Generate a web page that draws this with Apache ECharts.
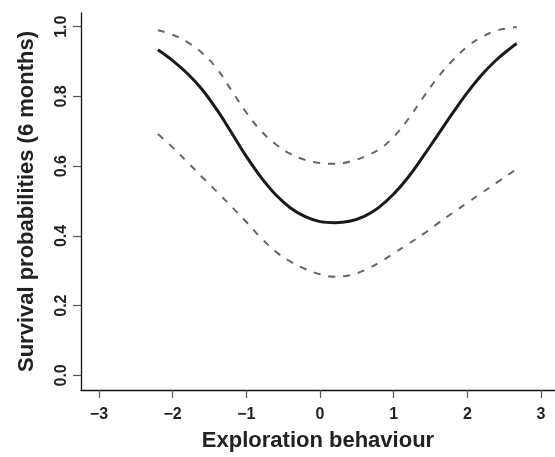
<!DOCTYPE html>
<html>
<head>
<meta charset="utf-8">
<script src="https://cdn.jsdelivr.net/npm/echarts@6/dist/echarts.min.js"></script>
<style>
html,body{margin:0;padding:0;background:#fff;}
#chart{width:555px;height:457px;}
</style>
</head>
<body>
<div id="chart"></div>
<script>
// Data
const xValues = [-2.2, -2.0, -1.8, -1.6, -1.4, -1.2, -1.0, -0.8, -0.6, -0.4, -0.2, 0.0, 0.2, 0.4, 0.6, 0.8, 1.0, 1.2, 1.4, 1.6, 1.8, 2.0, 2.2, 2.4, 2.6, 2.67];
const survivalFit = [0.934, 0.903, 0.866, 0.820, 0.762, 0.696, 0.628, 0.568, 0.518, 0.480, 0.455, 0.441, 0.438, 0.442, 0.456, 0.482, 0.520, 0.569, 0.628, 0.690, 0.752, 0.811, 0.863, 0.906, 0.941, 0.952];
const upperCI = [0.990, 0.977, 0.956, 0.925, 0.880, 0.817, 0.754, 0.701, 0.663, 0.635, 0.618, 0.609, 0.607, 0.613, 0.627, 0.648, 0.684, 0.736, 0.797, 0.855, 0.903, 0.943, 0.971, 0.989, 0.997, 0.999];
const lowerCI = [0.692, 0.654, 0.612, 0.569, 0.527, 0.484, 0.440, 0.394, 0.355, 0.326, 0.305, 0.290, 0.283, 0.287, 0.301, 0.323, 0.350, 0.377, 0.405, 0.436, 0.466, 0.495, 0.524, 0.553, 0.582, 0.591];
const xTicks = [-3, -2, -1, 0, 1, 2, 3];
const yTicks = [0, 0.2, 0.4, 0.6, 0.8, 1.0];
const xTitle = 'Exploration behaviour';
const yTitle = 'Survival probabilities (6 months)';

const pairs = arr => xValues.map((x, i) => [x, arr[i]]);
const font = '"Liberation Sans", Arial, Helvetica, sans-serif';

const chart = echarts.init(document.getElementById('chart'), null, {renderer: 'canvas'});
chart.setOption({
  animation: false,
  backgroundColor: '#ffffff',
  grid: {left: 81, right: 0, top: 13, bottom: 60, containLabel: false},
  xAxis: {
    type: 'value',
    min: -3.244,
    max: 3.19,
    splitLine: {show: false},
    axisLine: {show: true, onZero: false, lineStyle: {color: '#111', width: 1.3}},
    axisTick: {show: true, customValues: xTicks, length: 8, lineStyle: {color: '#555', width: 1.2}},
    axisLabel: {
      customValues: xTicks,
      margin: 17,
      color: '#222',
      fontSize: 16,
      fontWeight: 'bold',
      fontFamily: font,
      formatter: v => (v < 0 ? '\u2212' + Math.abs(v) : String(v))
    },
    name: xTitle,
    nameLocation: 'middle',
    nameGap: 40,
    nameTextStyle: {color: '#222', fontSize: 22, fontWeight: 'bold', fontFamily: font}
  },
  yAxis: {
    type: 'value',
    min: -0.042,
    max: 1.0394,
    splitLine: {show: false},
    axisLine: {show: true, onZero: false, lineStyle: {color: '#111', width: 1.3}},
    axisTick: {show: true, customValues: yTicks, length: 8, lineStyle: {color: '#555', width: 1.2}},
    axisLabel: {
      customValues: yTicks,
      rotate: 90,
      margin: 11,
      color: '#222',
      fontSize: 16,
      fontWeight: 'bold',
      fontFamily: font,
      formatter: v => v.toFixed(1)
    },
    name: yTitle,
    nameLocation: 'middle',
    nameRotate: 90,
    nameGap: 43,
    nameTextStyle: {color: '#222', fontSize: 22, fontWeight: 'bold', fontFamily: font}
  },
  series: [
    {
      type: 'line', data: pairs(upperCI), symbol: 'none', smooth: 0.4,
      lineStyle: {color: '#666', width: 2, type: [7, 8]}
    },
    {
      type: 'line', data: pairs(lowerCI), symbol: 'none', smooth: 0.4,
      lineStyle: {color: '#666', width: 2, type: [7, 8]}
    },
    {
      type: 'line', data: pairs(survivalFit), symbol: 'none', smooth: 0.4,
      lineStyle: {color: '#1a1a1a', width: 3}
    }
  ]
});
</script>
</body>
</html>
